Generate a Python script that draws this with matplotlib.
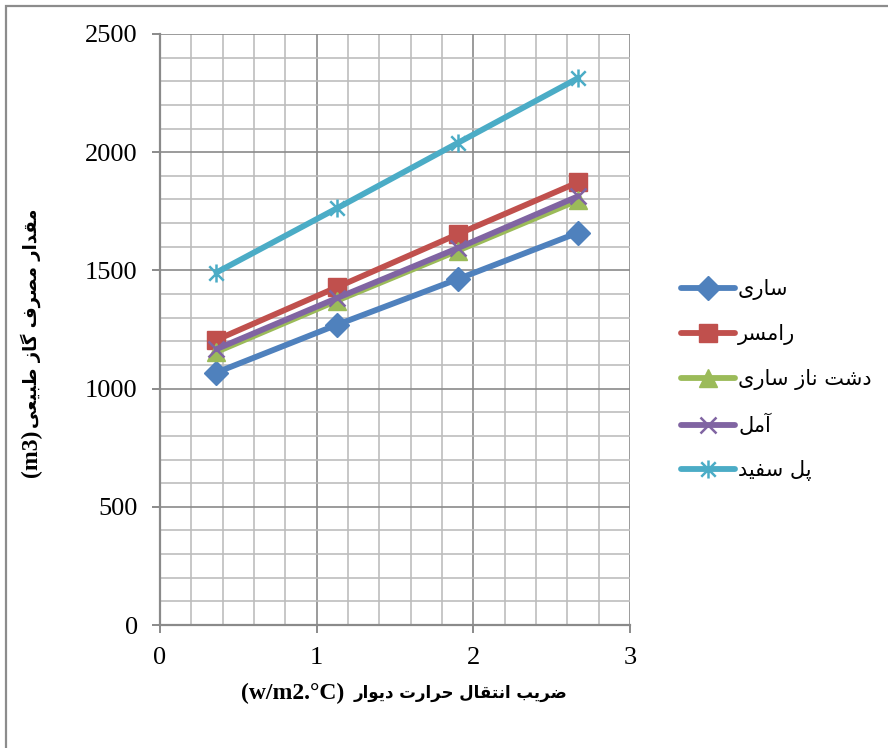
import matplotlib
matplotlib.use("Agg")
import matplotlib.pyplot as plt
from matplotlib.path import Path
from matplotlib.patches import Rectangle
from matplotlib.ticker import MultipleLocator

# ---------------- data ----------------
x_values = [0.36, 1.13, 1.90, 2.67]
sari = [1068, 1270, 1463, 1660]
ramsar = [1206, 1429, 1653, 1873]
dasht_naz_sari = [1155, 1372, 1583, 1797]
amol = [1167, 1383, 1594, 1814]
pol_sefid = [1491, 1763, 2039, 2314]

series_names = ["ساری", "رامسر", "دشت ناز ساری", "آمل", "پل سفید"]
x_label_fa = "ضریب انتقال حرارت دیوار"
x_label_unit = "(w/m2.°C)"
y_label_fa = "مقدار مصرف گاز طبیعی"
y_label_unit = "(m3)"

# ---------------- simple Persian shaping ----------------
FORMS = {
    'ا': (0xFE8D, 0xFE8E, None, None),
    'آ': (0xFE81, 0xFE82, None, None),
    'ب': (0xFE8F, 0xFE90, 0xFE91, 0xFE92),
    'پ': (0xFB56, 0xFB57, 0xFB58, 0xFB59),
    'ت': (0xFE95, 0xFE96, 0xFE97, 0xFE98),
    'ث': (0xFE99, 0xFE9A, 0xFE9B, 0xFE9C),
    'ج': (0xFE9D, 0xFE9E, 0xFE9F, 0xFEA0),
    'چ': (0xFB7A, 0xFB7B, 0xFB7C, 0xFB7D),
    'ح': (0xFEA1, 0xFEA2, 0xFEA3, 0xFEA4),
    'خ': (0xFEA5, 0xFEA6, 0xFEA7, 0xFEA8),
    'د': (0xFEA9, 0xFEAA, None, None),
    'ذ': (0xFEAB, 0xFEAC, None, None),
    'ر': (0xFEAD, 0xFEAE, None, None),
    'ز': (0xFEAF, 0xFEB0, None, None),
    'ژ': (0xFB8A, 0xFB8B, None, None),
    'س': (0xFEB1, 0xFEB2, 0xFEB3, 0xFEB4),
    'ش': (0xFEB5, 0xFEB6, 0xFEB7, 0xFEB8),
    'ص': (0xFEB9, 0xFEBA, 0xFEBB, 0xFEBC),
    'ض': (0xFEBD, 0xFEBE, 0xFEBF, 0xFEC0),
    'ط': (0xFEC1, 0xFEC2, 0xFEC3, 0xFEC4),
    'ظ': (0xFEC5, 0xFEC6, 0xFEC7, 0xFEC8),
    'ع': (0xFEC9, 0xFECA, 0xFECB, 0xFECC),
    'غ': (0xFECD, 0xFECE, 0xFECF, 0xFED0),
    'ف': (0xFED1, 0xFED2, 0xFED3, 0xFED4),
    'ق': (0xFED5, 0xFED6, 0xFED7, 0xFED8),
    'ک': (0xFB8E, 0xFB8F, 0xFB90, 0xFB91),
    'گ': (0xFB92, 0xFB93, 0xFB94, 0xFB95),
    'ل': (0xFEDD, 0xFEDE, 0xFEDF, 0xFEE0),
    'م': (0xFEE1, 0xFEE2, 0xFEE3, 0xFEE4),
    'ن': (0xFEE5, 0xFEE6, 0xFEE7, 0xFEE8),
    'و': (0xFEED, 0xFEEE, None, None),
    'ه': (0xFEE9, 0xFEEA, 0xFEEB, 0xFEEC),
    'ی': (0xFBFC, 0xFBFD, 0xFBFE, 0xFBFF),
}


def shape_rtl(text):
    out = []
    n = len(text)
    for i, ch in enumerate(text):
        if ch not in FORMS:
            out.append(ch)
            continue
        f = FORMS[ch]
        prev = text[i - 1] if i > 0 else None
        nxt = text[i + 1] if i + 1 < n else None
        join_prev = prev in FORMS and FORMS[prev][2] is not None
        join_next = f[2] is not None and nxt in FORMS
        if join_prev and join_next:
            code = f[3]
        elif join_prev:
            code = f[1]
        elif join_next:
            code = f[2]
        else:
            code = f[0]
        out.append(chr(code))
    return "".join(out)[::-1]


# ---------------- figure ----------------
W, H = 888, 748
fig = plt.figure(figsize=(W / 100, H / 100), dpi=100)
fig.patch.set_facecolor("white")

# outer frame
fig.patches.append(Rectangle((6 / W, -0.05), 1.2, (H - 6) / H + 0.05,
                             transform=fig.transFigure, fill=False,
                             edgecolor="#8c8c8c", linewidth=1.6))

ax = fig.add_axes([160 / W, (H - 625) / H, 470 / W, 591 / H])

# asterisk marker: X plus vertical
star_path = Path([(-1, -1), (1, 1), (-1, 1), (1, -1), (0, -1.25), (0, 1.25)],
                 [Path.MOVETO, Path.LINETO, Path.MOVETO, Path.LINETO,
                  Path.MOVETO, Path.LINETO])

colors = ["#4F81BD", "#C0504D", "#9BBB59", "#8064A2", "#4BACC6"]
data = [sari, ramsar, dasht_naz_sari, amol, pol_sefid]
markers = ["D", "s", "^", "x", star_path]
msizes = [12, 13, 13, 12, 13]

for name, ys, c, m, ms in zip(series_names, data, colors, markers, msizes):
    thin = isinstance(m, Path) or m == "x"
    ax.plot(x_values, ys, color=c, lw=4.2, marker=m, markersize=ms,
            markeredgewidth=1.8 if thin else 1.0,
            markeredgecolor=c, markerfacecolor=c,
            label=shape_rtl(name), solid_capstyle="round", zorder=3)

ax.set_xlim(0, 3)
ax.set_ylim(0, 2500)
ax.xaxis.set_major_locator(MultipleLocator(1))
ax.xaxis.set_minor_locator(MultipleLocator(0.2))
ax.yaxis.set_major_locator(MultipleLocator(500))
ax.yaxis.set_minor_locator(MultipleLocator(100))

ax.grid(which="major", color="#8a8a8a", linewidth=1.2, zorder=0)
ax.grid(which="minor", color="#bdbdbd", linewidth=1.2, zorder=0)
ax.set_axisbelow(True)

for side in ("top", "right"):
    ax.spines[side].set_visible(False)
for side in ("left", "bottom"):
    ax.spines[side].set_color("#8a8a8a")
    ax.spines[side].set_linewidth(1.6)

ax.tick_params(which="major", direction="out", length=6, width=1.4,
               color="#8a8a8a", labelsize=19, pad=10)
ax.tick_params(which="minor", length=0)
for lab in ax.get_xticklabels() + ax.get_yticklabels():
    lab.set_family("Liberation Serif")

# x axis title (latin unit on the left, Persian text on the right)
xl_y = (H - 693) / H
split_x = 348 / W
fig.text(split_x - 4 / W, xl_y, x_label_unit, ha="right", va="center",
         family="Liberation Serif", fontsize=17, fontweight="bold")
fig.text(split_x + 6 / W, xl_y, shape_rtl(x_label_fa), ha="left", va="center",
         family="DejaVu Sans", fontsize=12, fontweight="bold")

# y axis title (rotated: unit at bottom, Persian above)
yl_x = 31 / W
split_y = (H - 430) / H
fig.text(yl_x, split_y, y_label_unit, ha="center", va="top", rotation=90,
         family="Liberation Serif", fontsize=17, fontweight="bold")
fig.text(yl_x, split_y + 2 / H, shape_rtl(y_label_fa), ha="center",
         va="bottom", rotation=90, family="DejaVu Sans", fontsize=13,
         fontweight="bold")

leg = ax.legend(loc="center left", bbox_to_anchor=(662 / W, (H - 380) / H),
                bbox_transform=fig.transFigure, frameon=False,
                prop={"family": "DejaVu Sans", "size": 15},
                handlelength=2.6, labelspacing=1.15, handletextpad=0.15)

fig.savefig("out.png", dpi=100, facecolor="white")
